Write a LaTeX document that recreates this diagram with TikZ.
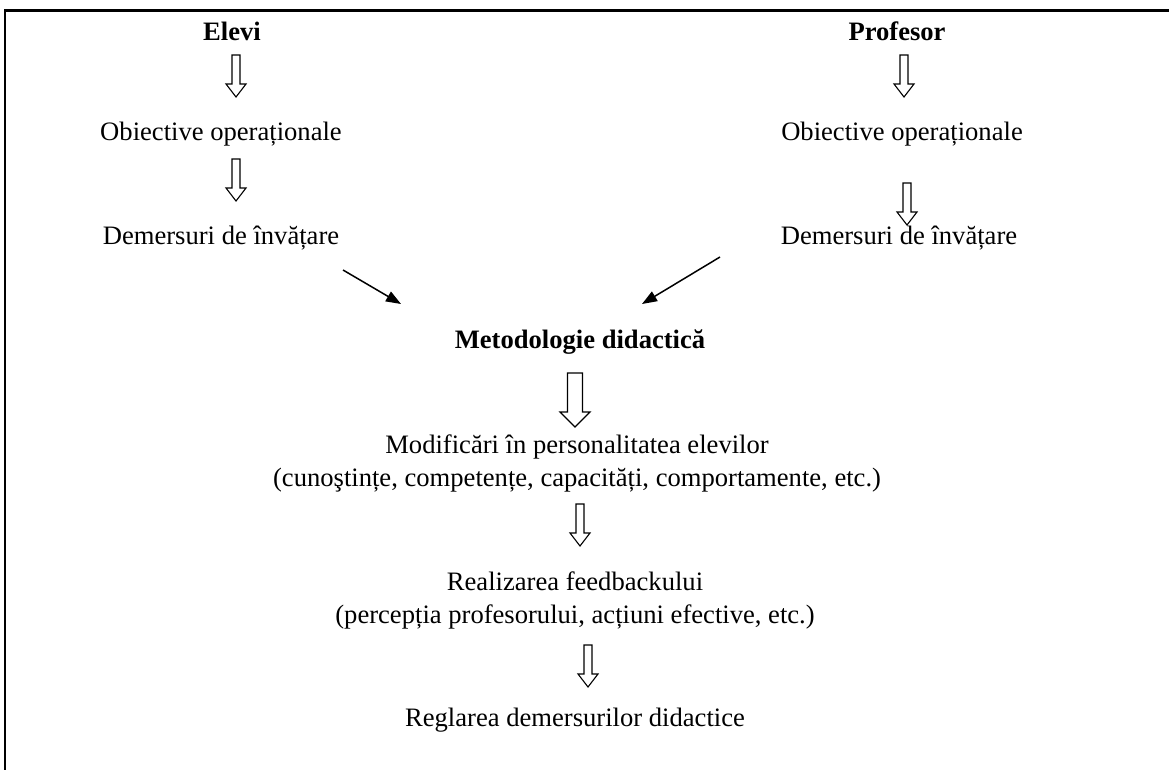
\documentclass[tikz,border=0pt]{standalone}
\usepackage{fontspec}
\setmainfont{Liberation Serif}
\usepackage{tikz}
\usetikzlibrary{arrows.meta,positioning}

\tikzset{
  txt/.style={inner sep=0pt,font=\fontsize{26.6}{33}\selectfont,align=center},
  hd/.style={txt,font=\fontsize{26.6}{33}\selectfont\bfseries},
  diag/.style={line width=1.5,-{Triangle[length=15pt,width=11pt]}},
  pics/smalldown/.style={code={
    \draw[line width=1.1] (-4,0) -- (4,0) -- (4,29) -- (10,29) -- (0,42) -- (-10,29) -- (-4,29) -- cycle;
  }},
  pics/bigdown/.style={code={
    \draw[line width=1.1] (-7.5,0) -- (7.5,0) -- (7.5,39) -- (15,39) -- (0,54) -- (-15,39) -- (-7.5,39) -- cycle;
  }}
}

\begin{document}
\begin{tikzpicture}[x=1pt,y=-1pt]
  \useasboundingbox (0,0) rectangle (1169,770);
  % frame (bottom and right cut off)
  \draw[line width=2.5] (5,770) -- (5,10.5) -- (1169,10.5);

  % left column
  \node[hd] (elevi) at (232,31) {Elevi};
  \node[txt] (obl) at (221,134) {Obiective operaționale};
  \node[txt] (deml) at (221,238) {Demersuri de învățare};
  % right column
  \node[hd] (prof) at (897,31) {Profesor};
  \node[txt] (obr) at (902,134) {Obiective operaționale};
  \node[txt] (demr) at (899,238) {Demersuri de învățare};
  % middle column
  \node[hd] (met) at (580,342) {Metodologie didactică};
  \node[txt] (mod) at (577,463) {Modificări în personalitatea elevilor\\(cunoştințe, competențe, capacități, comportamente, etc.)};
  \node[txt] (feed) at (575,600) {Realizarea feedbackului\\(percepția profesorului, acțiuni efective, etc.)};
  \node[txt] (regl) at (575,720) {Reglarea demersurilor didactice};

  % hollow arrows
  \pic at (236,55) {smalldown};
  \pic at (236,159) {smalldown};
  \pic at (904,55) {smalldown};
  \pic at (907,183) {smalldown};
  \pic at (575,373) {bigdown};
  \pic at (580,504) {smalldown};
  \pic at (588,645) {smalldown};

  % arrows into the methodology
  \coordinate (dls) at (343,270);
  \coordinate (dle) at (401,304);
  \coordinate (drs) at (720,257);
  \coordinate (dre) at (642,304);
  \draw[diag] (dls) -- (dle);
  \draw[diag] (drs) -- (dre);
\end{tikzpicture}
\end{document}
